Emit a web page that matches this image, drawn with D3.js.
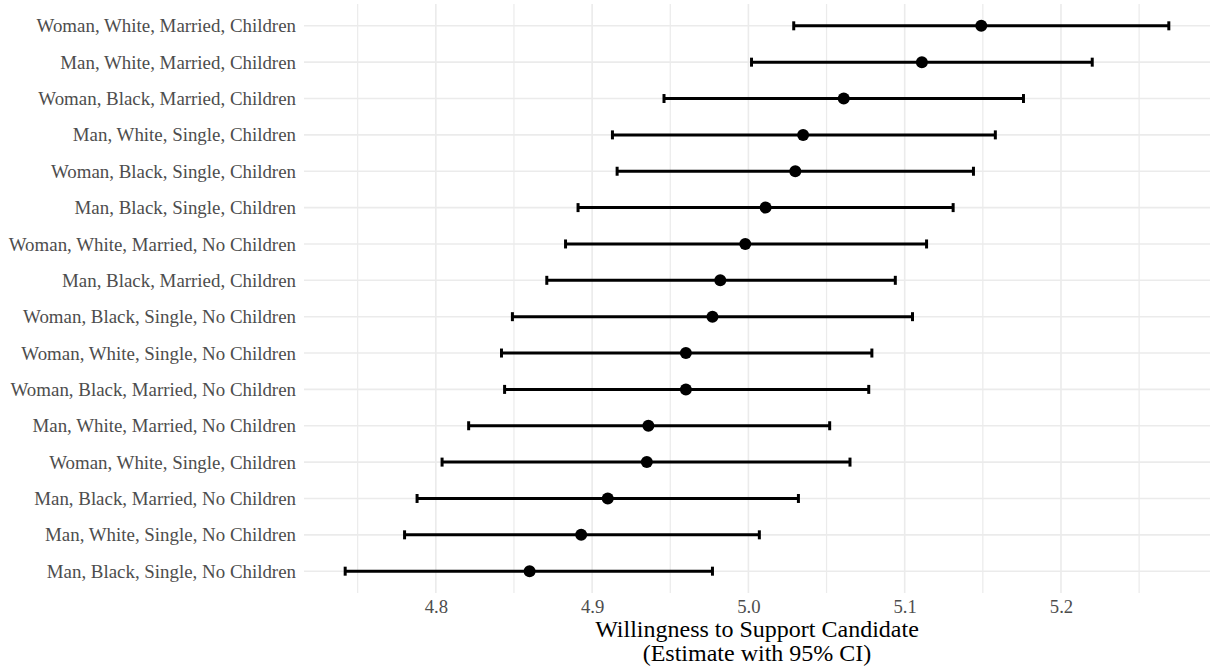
<!DOCTYPE html>
<html>
<head>
<meta charset="utf-8">
<script src="https://cdn.jsdelivr.net/npm/d3@7"></script>
<style>
  html, body { margin: 0; padding: 0; background: #ffffff; }
  svg { display: block; }
</style>
</head>
<body>
<svg id="chart" width="1211" height="670"></svg>
<script>
// Profiles, ordered from highest to lowest estimate
const profiles = [
  "Woman, White, Married, Children",
  "Man, White, Married, Children",
  "Woman, Black, Married, Children",
  "Man, White, Single, Children",
  "Woman, Black, Single, Children",
  "Man, Black, Single, Children",
  "Woman, White, Married, No Children",
  "Man, Black, Married, Children",
  "Woman, Black, Single, No Children",
  "Woman, White, Single, No Children",
  "Woman, Black, Married, No Children",
  "Man, White, Married, No Children",
  "Woman, White, Single, Children",
  "Man, Black, Married, No Children",
  "Man, White, Single, No Children",
  "Man, Black, Single, No Children"
];
const estimates = [5.149, 5.111, 5.061, 5.035, 5.030, 5.011, 4.998, 4.982,
                   4.977, 4.960, 4.960, 4.936, 4.935, 4.910, 4.893, 4.860];
const lowerCI   = [5.029, 5.002, 4.946, 4.913, 4.916, 4.891, 4.883, 4.871,
                   4.849, 4.842, 4.844, 4.821, 4.804, 4.788, 4.780, 4.742];
const upperCI   = [5.269, 5.220, 5.176, 5.158, 5.144, 5.131, 5.114, 5.094,
                   5.105, 5.079, 5.077, 5.052, 5.065, 5.032, 5.007, 4.977];
const majorTicks = [4.8, 4.9, 5.0, 5.1, 5.2];
const minorTicks = [4.75, 4.85, 4.95, 5.05, 5.15, 5.25];
const titleLines = ["Willingness to Support Candidate", "(Estimate with 95% CI)"];

const rows = profiles.map((p, i) => ({
  profile: p, est: estimates[i], lo: lowerCI[i], hi: upperCI[i]
}));

const svg = d3.select("#chart");
const panel = { left: 304, right: 1210, top: 4, bottom: 593 };
const fontFamily = "'Liberation Serif', 'Times New Roman', Times, serif";

// continuous x with 5% expansion on each side
const lo = d3.min(lowerCI), hi = d3.max(upperCI);
const pad = (hi - lo) * 0.05;
const x = d3.scaleLinear()
  .domain([lo - pad, hi + pad])
  .range([panel.left, panel.right]);

// discrete y with 0.6-step padding at the ends
const y = d3.scalePoint()
  .domain(profiles)
  .range([panel.top, panel.bottom])
  .padding(0.6);

const grid = svg.append("g");
grid.selectAll("line.minor")
  .data(minorTicks)
  .join("line")
  .attr("x1", d => x(d)).attr("x2", d => x(d))
  .attr("y1", panel.top).attr("y2", panel.bottom)
  .attr("stroke", "#ebebeb").attr("stroke-width", 1.2);
grid.selectAll("line.major")
  .data(majorTicks)
  .join("line")
  .attr("x1", d => x(d)).attr("x2", d => x(d))
  .attr("y1", panel.top).attr("y2", panel.bottom)
  .attr("stroke", "#ebebeb").attr("stroke-width", 1.6);
grid.selectAll("line.hgrid")
  .data(profiles)
  .join("line")
  .attr("x1", panel.left).attr("x2", panel.right)
  .attr("y1", d => y(d)).attr("y2", d => y(d))
  .attr("stroke", "#ebebeb").attr("stroke-width", 1.6);

// axes (text only, no domain lines or ticks)
const xAxis = svg.append("g")
  .attr("transform", `translate(0,${panel.bottom})`)
  .call(d3.axisBottom(x).tickValues(majorTicks).tickFormat(d3.format(".1f")).tickSize(0).tickPadding(7));
xAxis.select(".domain").remove();
xAxis.selectAll("text")
  .attr("fill", "#4d4d4d")
  .style("font-family", fontFamily)
  .style("font-size", "18.7px");

const yAxis = svg.append("g")
  .attr("transform", `translate(${panel.left},0)`)
  .call(d3.axisLeft(y).tickSize(0).tickPadding(8));
yAxis.select(".domain").remove();
yAxis.selectAll("text")
  .attr("fill", "#4d4d4d")
  .style("font-family", fontFamily)
  .style("font-size", "18.9px");

// error bars
const bars = svg.append("g");
const capHalf = 4.5;
bars.selectAll("line.ci")
  .data(rows)
  .join("line")
  .attr("x1", d => x(d.lo)).attr("x2", d => x(d.hi))
  .attr("y1", d => y(d.profile)).attr("y2", d => y(d.profile))
  .attr("stroke", "#000").attr("stroke-width", 3);
bars.selectAll("line.capL")
  .data(rows)
  .join("line")
  .attr("x1", d => x(d.lo)).attr("x2", d => x(d.lo))
  .attr("y1", d => y(d.profile) - capHalf).attr("y2", d => y(d.profile) + capHalf)
  .attr("stroke", "#000").attr("stroke-width", 3);
bars.selectAll("line.capR")
  .data(rows)
  .join("line")
  .attr("x1", d => x(d.hi)).attr("x2", d => x(d.hi))
  .attr("y1", d => y(d.profile) - capHalf).attr("y2", d => y(d.profile) + capHalf)
  .attr("stroke", "#000").attr("stroke-width", 3);

// point estimates
svg.append("g").selectAll("circle")
  .data(rows)
  .join("circle")
  .attr("cx", d => x(d.est))
  .attr("cy", d => y(d.profile))
  .attr("r", 6)
  .attr("fill", "#000");

// x-axis title
svg.append("text")
  .attr("x", (panel.left + panel.right) / 2)
  .attr("y", 637)
  .attr("text-anchor", "middle")
  .style("font-family", fontFamily)
  .style("font-size", "24px")
  .attr("fill", "#000")
  .selectAll("tspan")
  .data(titleLines)
  .join("tspan")
  .attr("x", (panel.left + panel.right) / 2)
  .attr("dy", (d, i) => i === 0 ? 0 : 24)
  .text(d => d);
</script>
</body>
</html>
